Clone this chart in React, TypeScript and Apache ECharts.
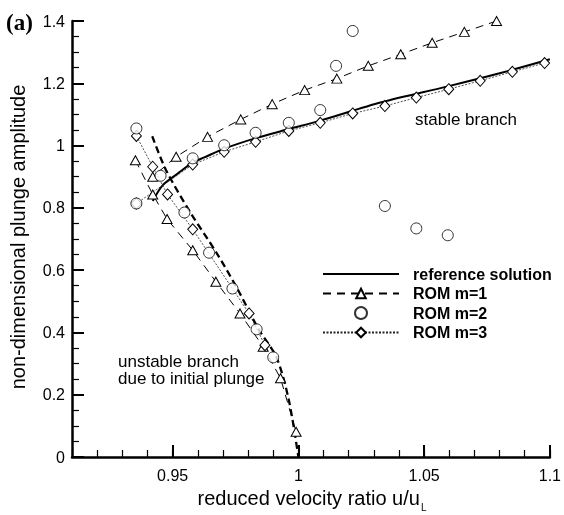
import React, { useEffect, useRef } from "react";
import * as echarts from "echarts";

const FONT = "'Liberation Sans', Arial, Helvetica, sans-serif";

// reference solution, stable (upper) branch
const refStableX = [0.9421, 0.9461, 0.952, 0.958, 0.9626, 0.9705, 0.9831, 0.9962, 1.0087, 1.033, 1.0594, 1.08, 1.1];
const refStableY = [0.822, 0.873, 0.91, 0.945, 0.962, 0.99, 1.024, 1.053, 1.08, 1.139, 1.19, 1.232, 1.277];
// reference solution, unstable branch
const refUnstableX = [0.9419, 0.9474, 0.9573, 0.9672, 0.9757, 0.9842, 0.9913, 0.9962, 1.0];
const refUnstableY = [1.03, 0.921, 0.782, 0.659, 0.541, 0.41, 0.32, 0.183, 0.0];
// ROM m=1
const m1UpperX = [1.0788, 1.066, 1.0532, 1.0407, 1.0278, 1.0153, 1.0025, 0.9896, 0.9771, 0.9639, 0.9514, 0.9421];
const m1UpperY = [1.4, 1.365, 1.33, 1.293, 1.256, 1.215, 1.178, 1.133, 1.084, 1.028, 0.964, 0.9];
const m1LowerX = [0.9352, 0.9421, 0.9478, 0.958, 0.9672, 0.9768, 0.986, 0.9929, 0.9991];
const m1LowerY = [0.953, 0.843, 0.764, 0.664, 0.563, 0.461, 0.354, 0.253, 0.081];
// ROM m=2
const m2X = [0.9356, 0.9356, 0.9452, 0.9547, 0.958, 0.9645, 0.9705, 0.9738, 0.983, 0.9834, 0.99, 0.9962, 1.0087, 1.015, 1.0216, 1.0344, 1.0469, 1.0594];
const m2Y = [1.055, 0.814, 0.903, 0.785, 0.959, 0.656, 1.001, 0.541, 1.041, 0.41, 0.32, 1.073, 1.114, 1.256, 1.368, 0.806, 0.734, 0.712];
// ROM m=3
const m3UpperX = [1.0979, 1.0851, 1.0723, 1.0598, 1.0469, 1.0344, 1.0216, 1.0087, 0.9962, 0.983, 0.9705, 0.958, 0.9356];
const m3UpperY = [1.265, 1.237, 1.208, 1.181, 1.154, 1.127, 1.103, 1.073, 1.047, 1.012, 0.98, 0.939, 0.814];
const m3LowerX = [0.9356, 0.9421, 0.948, 0.958, 0.9804, 0.9867];
const m3LowerY = [1.031, 0.932, 0.843, 0.731, 0.461, 0.359];

// labelled (major) x ticks; minor ticks every 0.01
const xMajorTicks = [0.95, 1.0, 1.05, 1.1];
const xMajorLabels = ["0.95", "1", "1.05", "1.1"];
const legendNames = ["reference solution", "ROM m=1", "ROM m=2", "ROM m=3"];

const zip = (xs: number[], ys: number[]) => xs.map((x, i) => [x, ys[i]]);

export default function App() {
  const ref = useRef<HTMLDivElement>(null);
  useEffect(() => {
    if (!ref.current) return;
    const chart = echarts.init(ref.current, null, { renderer: "svg" });
    const hollow = { color: "#fff", borderColor: "#000", borderWidth: 1 };
    const invisible = { color: "rgba(0,0,0,0)", borderColor: "rgba(0,0,0,0)", borderWidth: 0 };
    // major tick height in data units (about 12 px on a 436 px tall, 0..1.4 axis)
    const majorTickLen = (12 / 436) * 1.4;
    const option: any = {
      animation: false,
      grid: { left: 72, top: 21, width: 481, height: 436 },
      legend: {
        data: legendNames.map((n, i) => (i === 0 ? { name: n, itemStyle: invisible } : { name: n })),
        left: 317,
        top: 261,
        orient: "vertical",
        itemWidth: 76,
        itemHeight: 12,
        itemGap: 3.5,
        selectedMode: false,
        textStyle: { fontSize: 16, fontWeight: "bold", fontFamily: FONT, color: "#000", padding: [0, 0, 0, 9] },
      },
      xAxis: {
        type: "value",
        min: 0.91,
        max: 1.1,
        interval: 0.01,
        axisLine: { show: true, onZero: false, lineStyle: { color: "#000", width: 2.5 } },
        axisTick: { inside: true, length: 7, lineStyle: { color: "#000", width: 1.2 } },
        axisLabel: {
          fontSize: 16,
          fontFamily: FONT,
          color: "#000",
          margin: 10,
          showMinLabel: true,
          showMaxLabel: true,
          formatter: (v: number) => {
            const s = String(Math.round(v * 100) / 100);
            return xMajorLabels.indexOf(s) >= 0 ? s : "";
          },
        },
        splitLine: { show: false },
      },
      yAxis: {
        type: "value",
        min: 0,
        max: 1.4,
        interval: 0.2,
        axisLine: { show: true, onZero: false, lineStyle: { color: "#000", width: 2.5 } },
        axisTick: { inside: true, length: 12, lineStyle: { color: "#000", width: 2 } },
        minorTick: { show: true, splitNumber: 4, length: 7, lineStyle: { color: "#000", width: 1.2 } },
        splitLine: { show: false },
        minorSplitLine: { show: false },
        axisLabel: { fontSize: 16, fontFamily: FONT, color: "#000", margin: 7 },
      },
      series: [
        {
          name: "reference solution",
          type: "line",
          data: zip(refStableX, refStableY),
          symbol: "none",
          smooth: 0.3,
          lineStyle: { color: "#000", width: 2 },
          itemStyle: { color: "#000" },
          z: 2,
        },
        {
          name: "ref-unstable",
          type: "line",
          data: zip(refUnstableX, refUnstableY),
          symbol: "none",
          smooth: 0.3,
          lineStyle: { color: "#000", width: 2.3, type: [7, 4] },
          z: 2,
          markLine: {
            silent: true,
            symbol: ["none", "none"],
            label: { show: false },
            lineStyle: { color: "#000", width: 2, type: "solid" },
            data: xMajorTicks.map((v) => [{ coord: [v, 0] }, { coord: [v, majorTickLen] }]),
          },
        },
        {
          name: "ROM m=1",
          type: "line",
          data: zip(m1UpperX, m1UpperY),
          symbol: "triangle",
          symbolSize: [10, 9],
          itemStyle: hollow,
          lineStyle: { color: "#000", width: 1, type: [8, 6] },
          z: 3,
        },
        {
          name: "ROM m=1",
          type: "line",
          data: zip(m1LowerX, m1LowerY),
          symbol: "triangle",
          symbolSize: [10, 9],
          itemStyle: hollow,
          lineStyle: { color: "#000", width: 1, type: [8, 6] },
          z: 3,
        },
        {
          name: "ROM m=3",
          type: "line",
          data: zip(m3UpperX, m3UpperY),
          symbol: "diamond",
          symbolSize: [10, 11],
          itemStyle: hollow,
          lineStyle: { color: "#222", width: 0.8, type: [2, 1.5] },
          z: 4,
        },
        {
          name: "ROM m=3",
          type: "line",
          data: zip(m3LowerX, m3LowerY),
          symbol: "diamond",
          symbolSize: [10, 11],
          itemStyle: hollow,
          lineStyle: { color: "#222", width: 0.8, type: [2, 1.5] },
          z: 4,
        },
        {
          name: "ROM m=2",
          type: "scatter",
          data: zip(m2X, m2Y),
          symbol: "circle",
          symbolSize: 11,
          itemStyle: hollow,
          z: 5,
        },
      ],
      graphic: [
        {
          type: "text",
          x: 6,
          y: 22,
          style: { text: "(a)", font: "bold 23px 'Liberation Serif', 'Times New Roman', serif", fill: "#000", align: "left", verticalAlign: "middle" },
        },
        {
          type: "text",
          x: 415,
          y: 119,
          style: { text: "stable branch", fontSize: 17, fontFamily: FONT, fill: "#000", align: "left", verticalAlign: "middle" },
        },
        {
          type: "text",
          x: 118,
          y: 370,
          style: {
            text: "unstable branch\ndue to initial plunge",
            fontSize: 17,
            lineHeight: 17.5,
            fontFamily: FONT,
            fill: "#000",
            align: "left",
            verticalAlign: "middle",
          },
        },
        {
          type: "text",
          x: 18,
          y: 237,
          rotation: Math.PI / 2,
          style: {
            text: "non-dimensional plunge amplitude",
            fontSize: 20,
            fontFamily: FONT,
            fill: "#000",
            align: "center",
            verticalAlign: "middle",
          },
        },
        {
          type: "text",
          x: 312,
          y: 498,
          style: {
            text: "reduced velocity ratio u/u{sub|L}",
            fontSize: 20,
            fontFamily: FONT,
            fill: "#000",
            align: "center",
            verticalAlign: "middle",
            rich: { sub: { fontSize: 10, fontFamily: FONT, fill: "#000", padding: [18, 0, 0, 1] } },
          },
        },
      ],
    };
    chart.setOption(option);
    return () => chart.dispose();
  }, []);
  return <div ref={ref} style={{ position: "fixed", left: 0, top: 0, width: 564, height: 515 }} />;
}
